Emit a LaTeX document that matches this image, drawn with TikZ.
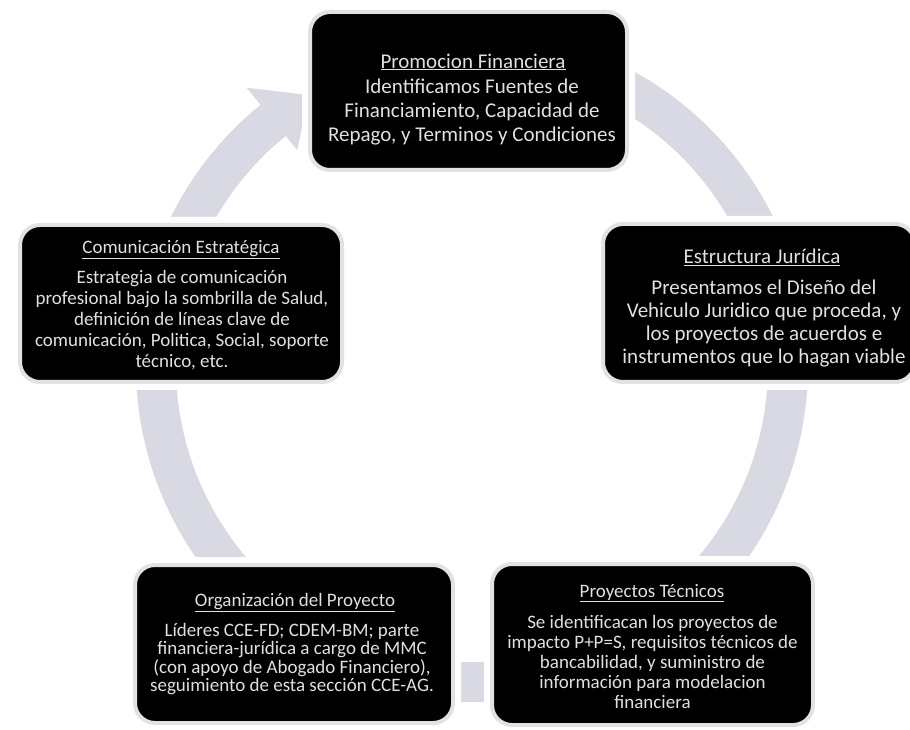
\documentclass[tikz,border=0pt]{standalone}
\usepackage{fontspec}
\setmainfont{Carlito}
\definecolor{ringgray}{RGB}{216,217,226}
\definecolor{txtgray}{RGB}{224,224,224}
\definecolor{rimgray}{RGB}{226,226,226}
\begin{document}
\begin{tikzpicture}[x=1pt,y=1pt,
  box/.style={fill=black, draw=rimgray, line width=4pt, rounded corners=20pt,
    preaction={draw=white, line width=16pt}, inner sep=0pt},
  txt/.style={text=txtgray, inner sep=0pt, align=center},
  fbig/.style={font=\fontsize{21}{24}\selectfont},
  fbigb/.style={font=\fontsize{21}{23}\selectfont},
  fleft/.style={font=\fontsize{19}{21}\selectfont},
  fbl/.style={font=\fontsize{19}{18.5}\selectfont},
  fbr/.style={font=\fontsize{19}{20}\selectfont}]
\useasboundingbox (0,0) rectangle (910,729);
\fill[white] (0,0) rectangle (910,729);
% ring
\coordinate (c) at (472,363);
\draw[ringgray, line width=40pt] ([shift={(85:316)}]c) arc[start angle=85, end angle=-231, radius=316];
\fill[ringgray] ([shift={(129:358)}]c) -- ([shift={(121:316)}]c) -- ([shift={(129:278)}]c) -- cycle;
% boxes
\node[box, minimum width=317pt, minimum height=158pt] (btop) at (468.5,638) {};
\node[box, minimum width=312pt, minimum height=158pt] (bright) at (759,426) {};
\node[box, minimum width=322pt, minimum height=157pt] (bleft) at (181,425.5) {};
\node[box, minimum width=318pt, minimum height=158pt] (bbl) at (294,85) {};
\node[box, minimum width=321pt, minimum height=161pt] (bbr) at (652.5,84.5) {};
% texts
\node[txt, fbig] (ttop) at (473,667) {\underline{Promocion Financiera}};
\node[txt, fbig] (xtop) at (472,617) {Identificamos Fuentes de\\Financiamiento, Capacidad de\\Repago, y Terminos y Condiciones};
\node[txt, fbig] (tright) at (762,472) {\underline{Estructura Jurídica}};
\node[txt, fbigb] (xright) at (764,405) {Presentamos el Diseño del\\Vehiculo Juridico que proceda, y\\los proyectos de acuerdos e\\instrumentos que lo hagan viable};
\node[txt, fleft] (tleft) at (181,479) {\underline{Comunicación Estratégica}};
\node[txt, fleft] (xleft) at (182,409) {Estrategia de comunicación\\profesional bajo la sombrilla de Salud,\\definición de líneas clave de\\comunicación, Politica, Social, soporte\\técnico, etc.};
\node[txt, fbl] (tbl) at (295,126) {\underline{Organización del Proyecto}};
\node[txt, fbl] (xbl) at (292,70) {Líderes CCE-FD; CDEM-BM; parte\\financiera-jurídica a cargo de MMC\\(con apoyo de Abogado Financiero),\\seguimiento de esta sección CCE-AG.};
\node[txt, fbr] (tbr) at (652,136) {\underline{Proyectos Técnicos}};
\node[txt, fbr] (xbr) at (652.5,67) {Se identificacan los proyectos de\\impacto P+P=S, requisitos técnicos de\\bancabilidad, y suministro de\\información para modelacion\\financiera};
\end{tikzpicture}
\end{document}
